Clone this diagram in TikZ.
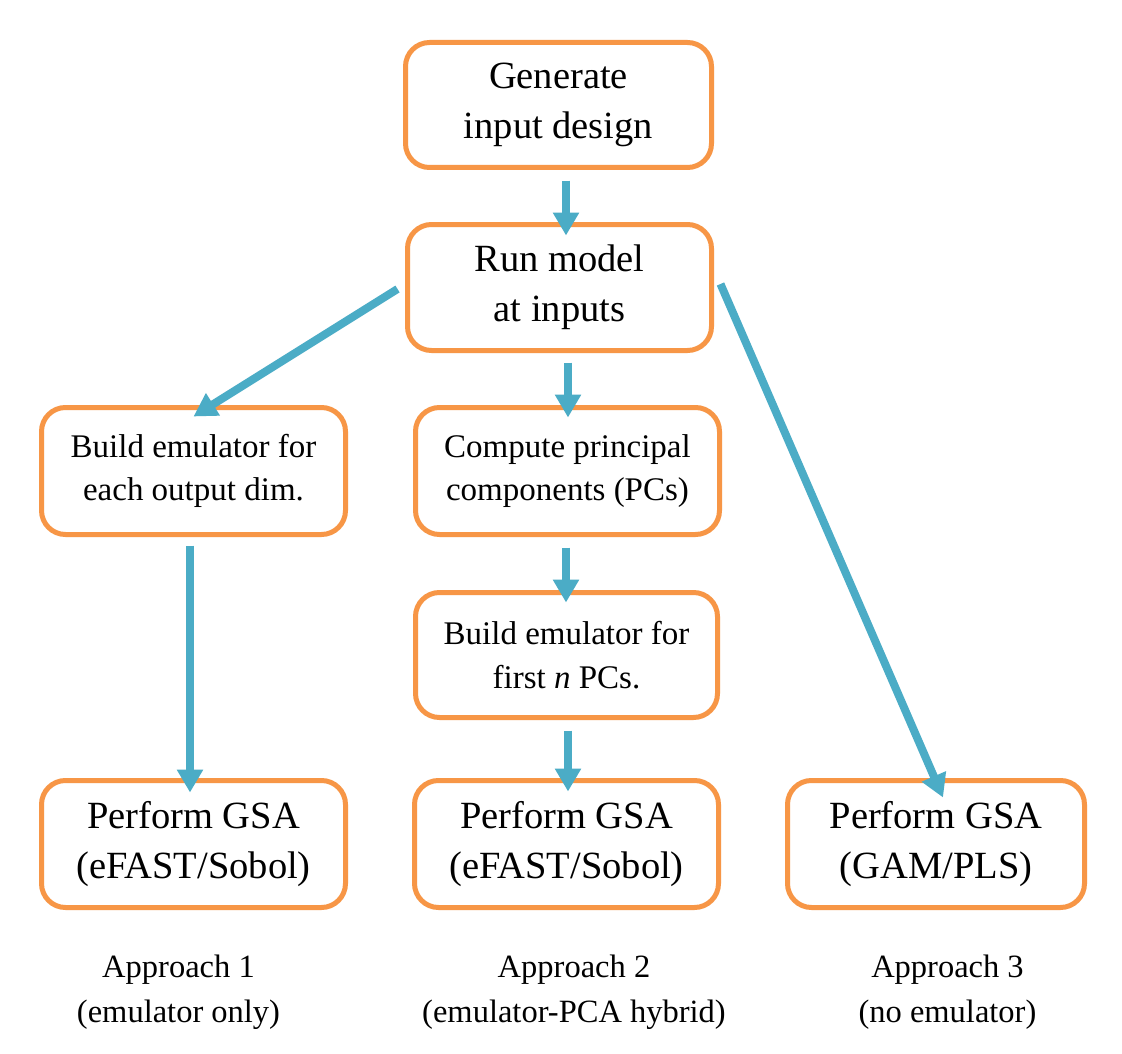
\documentclass[tikz,border=0pt]{standalone}
\usepackage{fontspec}
\setmainfont{Liberation Serif}
\usetikzlibrary{arrows.meta,calc}
\definecolor{boxorange}{HTML}{F79646}
\definecolor{arrblue}{HTML}{4BACC6}
\tikzset{
  box/.style={draw=boxorange, line width=5pt, rounded corners=24pt, fill=white,
    align=center, inner sep=0pt},
  bigtxt/.style={font=\fontsize{38.5}{50}\selectfont},
  smalltxt/.style={font=\fontsize{33}{43.5}\selectfont},
  arr/.style={draw=arrblue, line width=8pt,
    -{Triangle[width=25pt,length=23pt]}},
  lbl/.style={align=center, inner sep=0pt, font=\fontsize{32.5}{45}\selectfont}
}
\begin{document}
\begin{tikzpicture}[x=1pt,y=-1pt]
\useasboundingbox[fill=white] (0,0) rectangle (1122,1054);
\node[box,bigtxt,minimum width=306pt,minimum height=125pt] (b1) at (558.5,105) {Generate\\input design};
\node[box,bigtxt,minimum width=304pt,minimum height=126pt] (b2) at (559.5,287.5) {Run model\\at inputs};
\node[box,smalltxt,minimum width=304pt,minimum height=127pt] (b3) at (193.5,471) {Build emulator for\\each output dim.};
\node[box,smalltxt,minimum width=304pt,minimum height=127pt] (b4) at (567.5,471) {Compute principal\\components (PCs)};
\node[box,smalltxt,minimum width=302pt,minimum height=125pt] (b5) at (566.5,655) {Build emulator for\\first \textit{n} PCs.};
\node[box,bigtxt,minimum width=304pt,minimum height=127pt] (b6) at (193.5,844) {Perform GSA\\(eFAST/Sobol)};
\node[box,bigtxt,minimum width=304pt,minimum height=127pt] (b7) at (566.5,844) {Perform GSA\\(eFAST/Sobol)};
\node[box,bigtxt,minimum width=297pt,minimum height=127pt] (b8) at (936,844) {Perform GSA\\(GAM/PLS)};

\node[lbl] (l1) at (178.5,992) {Approach 1\\(emulator only)};
\node[lbl] (l2) at (574,992) {Approach 2\\(emulator-PCA hybrid)};
\node[lbl] (l3) at (947.5,992) {Approach 3\\(no emulator)};

\draw[arr] ($(b1.south)+(7.5,10.5)$) -- ($(b2.north)+(6.5,13.5)$);
\draw[arr] ($(b2.south)+(8.5,9.5)$) -- ($(b4.north)+(0.5,12.5)$);
\draw[arr] ($(b2.west)+(-7.5,1.5)$) -- ($(b3.north)+(0,11.5)$);
\draw[arr] ($(b2.east)+(6.5,-3.5)$) -- ($(b8.north)+(7,19.5)$);
\draw[arr] ($(b3.south)+(-3.5,8.5)$) -- ($(b6.north)+(-3.5,14.5)$);
\draw[arr] ($(b4.south)+(-1.5,10.5)$) -- ($(b5.north)+(-0.5,12.5)$);
\draw[arr] ($(b5.south)+(1.5,10.5)$) -- ($(b7.north)+(1.5,13.5)$);
\end{tikzpicture}
\end{document}
